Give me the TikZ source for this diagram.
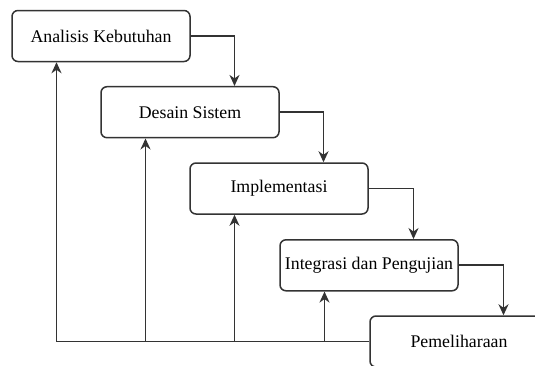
\documentclass[tikz,border=0pt]{standalone}
\usepackage{fontspec}
\setmainfont{Liberation Serif}
\usetikzlibrary{arrows.meta}

\begin{document}
\begin{tikzpicture}[
        x=1pt, y=-1pt,
        phase/.style={draw=black!80, line width=1.5pt, rounded corners=6pt, fill=white,
            minimum width=178pt, minimum height=51pt, inner sep=0pt,
            font=\fontsize{17.8}{21}\selectfont},
        flow/.style={draw=black!80, line width=1.7pt, -{Stealth[length=11pt, width=10pt, inset=3.5pt]}}
    ]
        \useasboundingbox (0, 0) rectangle (535, 365);
        \node[phase] (ak) at (101, 36) {Analisis Kebutuhan};
        \node[phase] (ds) at (190, 112.2) {Desain Sistem};
        \node[phase] (im) at (279, 188.5) {Implementasi};
        \node[phase] (ip) at (369, 265.3) {Integrasi dan Pengujian};
        \node[phase] (pm) at (459, 341.5) {Pemeliharaan};
        % turun ke fase berikutnya
        \draw[flow] (ak.east) -| ([xshift=44.5pt]ds.north);
        \draw[flow] (ds.east) -| ([xshift=44.5pt]im.north);
        \draw[flow] (im.east) -| ([xshift=44.5pt]ip.north);
        \draw[flow] (ip.east) -| ([xshift=44.5pt]pm.north);
        % umpan balik
        \draw[flow] (pm.west) -| ([xshift=-44.5pt]ak.south);
        \draw[flow] ([xshift=-44.5pt]ds.south |- pm.west) -- ([xshift=-44.5pt]ds.south);
        \draw[flow] ([xshift=-44.5pt]im.south |- pm.west) -- ([xshift=-44.5pt]im.south);
        \draw[flow] ([xshift=-44.5pt]ip.south |- pm.west) -- ([xshift=-44.5pt]ip.south);
    \end{tikzpicture}
\end{document}
